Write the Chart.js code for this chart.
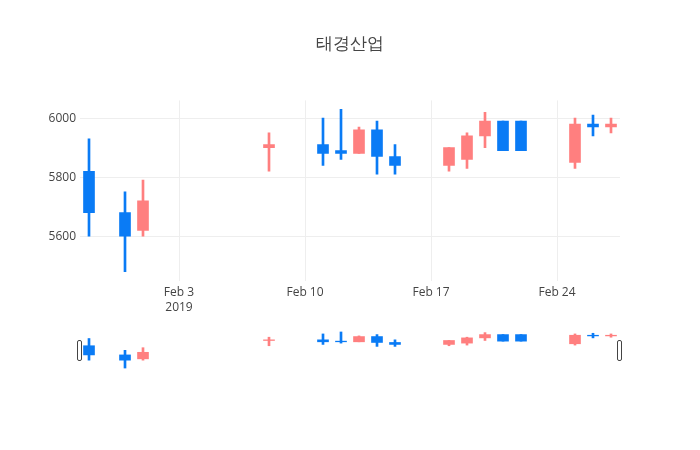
<!DOCTYPE html>
<html>
<head>
<meta charset="utf-8">
<script src="https://cdn.jsdelivr.net/npm/chart.js@4"></script>
<style>
  body { margin: 0; background: #fff; }
  #wrap { position: relative; width: 700px; height: 450px; }
  #mainBox { position: absolute; left: 0; top: 0; width: 700px; height: 320px; }
  #sliderBox { position: absolute; left: 0; top: 320px; width: 700px; height: 60px; }
</style>
</head>
<body>
<div id="wrap">
  <div id="mainBox"><canvas id="main" width="700" height="320"></canvas></div>
  <div id="sliderBox"><canvas id="slider" width="700" height="60"></canvas></div>
</div>
<script>
// daily prices
const dates = ['2019-01-29', '2019-01-31', '2019-02-01', '2019-02-08', '2019-02-11', '2019-02-12',
    '2019-02-13', '2019-02-14', '2019-02-15', '2019-02-18', '2019-02-19', '2019-02-20',
    '2019-02-21', '2019-02-22', '2019-02-25', '2019-02-26', '2019-02-27'];
const opens  = [5820, 5680, 5620, 5900, 5910, 5890, 5880, 5960, 5870, 5840, 5860, 5940, 5990, 5990, 5850, 5980, 5970];
const highs  = [5930, 5750, 5790, 5950, 6000, 6030, 5970, 5990, 5910, 5900, 5950, 6020, 5990, 5990, 6000, 6010, 6000];
const lows   = [5600, 5480, 5600, 5820, 5840, 5860, 5880, 5810, 5810, 5820, 5830, 5900, 5890, 5890, 5830, 5940, 5950];
const closes = [5680, 5600, 5720, 5910, 5880, 5880, 5960, 5870, 5840, 5900, 5940, 5990, 5890, 5890, 5980, 5970, 5980];

const tickDates = ['2019-02-03', '2019-02-10', '2019-02-17', '2019-02-24'];
const tickLabels = [['Feb 3', '2019'], 'Feb 10', 'Feb 17', 'Feb 24'];
const yTicks = [5600, 5800, 6000];

const upColor = '#FF7F7F';
const downColor = '#0A7BF5';

function dayNum(s) {
    return Date.parse(s + 'T00:00:00Z') / 86400000;
}

const xs = dates.map(dayNum);
const xMin = xs[0] - 0.5;
const xMax = xs[xs.length - 1] + 0.5;
const yMin = 5450;
const yMax = 6060;
const colors = opens.map((o, i) => closes[i] >= o ? upColor : downColor);

function candleSets(bodyW, wickW) {
    return [
        {
            label: 'wick',
            data: xs.map((x, i) => ({ x: x, y: [lows[i], highs[i]] })),
            backgroundColor: colors,
            barThickness: wickW,
            grouped: false,
            order: 2
        },
        {
            label: 'body',
            data: xs.map((x, i) => ({ x: x, y: [opens[i], closes[i]] })),
            backgroundColor: colors,
            barThickness: bodyW,
            grouped: false,
            order: 1
        }
    ];
}

Chart.defaults.font.family = '"Open Sans", sans-serif';
Chart.defaults.font.size = 12;
Chart.defaults.color = '#444';

new Chart(document.getElementById('main'), {
    type: 'bar',
    data: { datasets: candleSets(11, 2) },
    options: {
        responsive: false,
        animation: false,
        devicePixelRatio: 1,
        layout: { padding: 0 },
        plugins: {
            legend: { display: false },
            tooltip: { enabled: false },
            title: {
                display: true,
                text: '태경산업',
                color: '#444',
                font: { size: 17, weight: 'normal', lineHeight: 1.2 },
                padding: { top: 34, bottom: 46 }
            }
        },
        scales: {
            x: {
                type: 'linear',
                min: xMin,
                max: xMax,
                offset: false,
                afterBuildTicks: s => { s.ticks = tickDates.map(d => ({ value: dayNum(d) })); },
                afterFit: s => { s.height = 39.5; },
                ticks: {
                    autoSkip: false,
                    maxRotation: 0,
                    padding: 5,
                    callback: (v, i) => tickLabels[i]
                },
                grid: { color: '#eee', drawTicks: false, offset: false },
                border: { display: false }
            },
            y: {
                min: yMin,
                max: yMax,
                afterBuildTicks: s => { s.ticks = yTicks.map(v => ({ value: v })); },
                afterFit: s => { s.width = 80; },
                ticks: { padding: 4, callback: v => String(v) },
                grid: { color: '#eee', drawTicks: false },
                border: { display: false }
            },
            // empty right margin so the title centres on the whole page
            yRight: {
                position: 'right',
                afterFit: s => { s.width = 80; },
                ticks: { display: false },
                grid: { display: false },
                border: { display: false }
            }
        }
    }
});

// range slider handles at both ends of the full range
const handles = {
    id: 'handles',
    afterDraw(chart) {
        const { ctx, scales } = chart;
        ctx.save();
        ctx.fillStyle = '#fff';
        ctx.strokeStyle = '#444';
        ctx.lineWidth = 1;
        [xMin, xMax].forEach(v => {
            const px = Math.round(scales.x.getPixelForValue(v));
            ctx.beginPath();
            ctx.roundRect(px - 2.5, 20.5, 4, 20, 1.5);
            ctx.fill();
            ctx.stroke();
        });
        ctx.restore();
    }
};

new Chart(document.getElementById('slider'), {
    type: 'bar',
    data: { datasets: candleSets(11, 2) },
    options: {
        responsive: false,
        animation: false,
        devicePixelRatio: 1,
        layout: { padding: { left: 80, right: 80, top: 10, bottom: 10 } },
        plugins: {
            legend: { display: false },
            tooltip: { enabled: false },
            title: { display: false }
        },
        scales: {
            x: { type: 'linear', min: xMin, max: xMax, offset: false, display: false },
            y: { min: yMin, max: yMax, display: false }
        }
    },
    plugins: [handles]
});
</script>
</body>
</html>
